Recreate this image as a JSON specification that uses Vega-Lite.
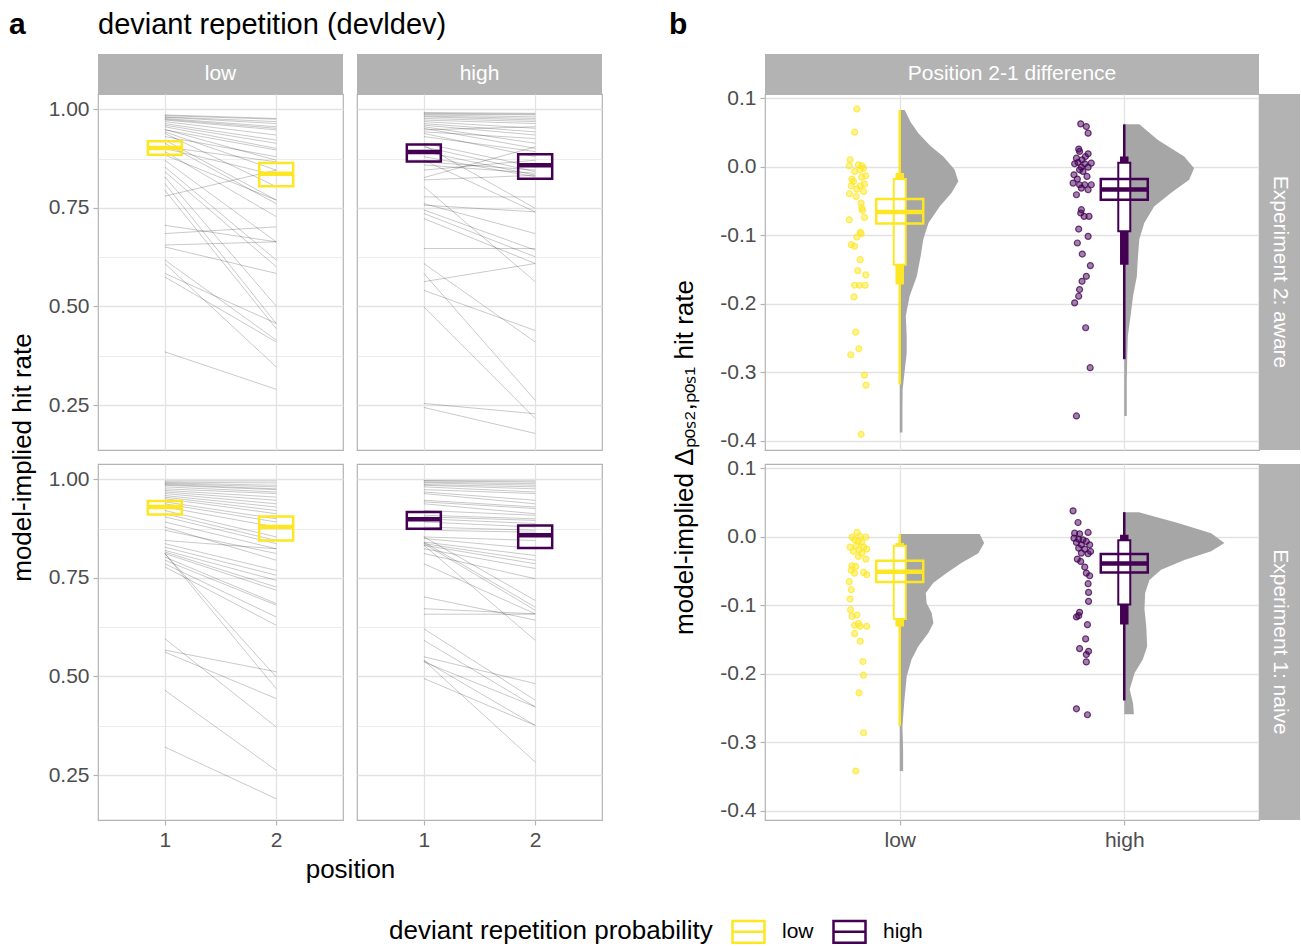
{
"$schema": "https://vega.github.io/schema/vega-lite/v6.json",
"padding": {"left": 8, "top": 10, "right": 2, "bottom": 2},
"config": {
  "font": "Liberation Sans",
  "view": {"stroke": "#b3b3b3", "strokeWidth": 1.2},
  "axis": {"domain": false, "grid": true, "gridColor": "#e2e2e2", "tickColor": "#b3b3b3", "tickSize": 5, "tickWidth": 1.2, "labelColor": "#4d4d4d", "labelFontSize": 21, "labelPadding": 4, "labelOverlap": false, "labelFlush": false, "titleFontSize": 26, "titleFontWeight": "normal", "titleColor": "black", "titlePadding": 8}
},
"bounds": "flush", "align": "each", "spacing": 0, "columns": 6,
"datasets": {
  "lAL": [{"v1":0.986,"v2":0.977},{"v1":0.984,"v2":0.975},{"v1":0.981,"v2":0.969},{"v1":0.98,"v2":0.964},{"v1":0.977,"v2":0.956},{"v1":0.975,"v2":0.952},{"v1":0.973,"v2":0.948},{"v1":0.969,"v2":0.935},{"v1":0.964,"v2":0.922},{"v1":0.96,"v2":0.914},{"v1":0.956,"v2":0.901},{"v1":0.949,"v2":0.871},{"v1":0.948,"v2":0.897},{"v1":0.943,"v2":0.846},{"v1":0.939,"v2":0.804},{"v1":0.931,"v2":0.88},{"v1":0.922,"v2":0.77},{"v1":0.914,"v2":0.761},{"v1":0.905,"v2":0.867},{"v1":0.901,"v2":0.833},{"v1":0.893,"v2":0.728},{"v1":0.884,"v2":0.77},{"v1":0.871,"v2":0.664},{"v1":0.854,"v2":0.618},{"v1":0.842,"v2":0.601},{"v1":0.829,"v2":0.501},{"v1":0.812,"v2":0.457},{"v1":0.795,"v2":0.444},{"v1":0.78,"v2":0.846},{"v1":0.706,"v2":0.664},{"v1":0.685,"v2":0.702},{"v1":0.656,"v2":0.664},{"v1":0.651,"v2":0.584},{"v1":0.618,"v2":0.415},{"v1":0.609,"v2":0.347},{"v1":0.584,"v2":0.457},{"v1":0.575,"v2":0.41},{"v1":0.385,"v2":0.29}],
  "lAH": [{"v1":0.992,"v2":0.99},{"v1":0.99,"v2":0.988},{"v1":0.988,"v2":0.986},{"v1":0.986,"v2":0.981},{"v1":0.983,"v2":0.977},{"v1":0.981,"v2":0.973},{"v1":0.977,"v2":0.969},{"v1":0.973,"v2":0.964},{"v1":0.969,"v2":0.952},{"v1":0.964,"v2":0.943},{"v1":0.96,"v2":0.935},{"v1":0.956,"v2":0.914},{"v1":0.952,"v2":0.901},{"v1":0.948,"v2":0.956},{"v1":0.943,"v2":0.926},{"v1":0.939,"v2":0.88},{"v1":0.931,"v2":0.893},{"v1":0.914,"v2":0.854},{"v1":0.909,"v2":0.749},{"v1":0.905,"v2":0.842},{"v1":0.893,"v2":0.833},{"v1":0.88,"v2":0.829},{"v1":0.871,"v2":0.74},{"v1":0.867,"v2":0.846},{"v1":0.859,"v2":0.838},{"v1":0.846,"v2":0.871},{"v1":0.827,"v2":0.905},{"v1":0.821,"v2":0.833},{"v1":0.804,"v2":0.563},{"v1":0.778,"v2":0.778},{"v1":0.761,"v2":0.685},{"v1":0.757,"v2":0.74},{"v1":0.745,"v2":0.643},{"v1":0.736,"v2":0.626},{"v1":0.723,"v2":0.609},{"v1":0.647,"v2":0.647},{"v1":0.609,"v2":0.41},{"v1":0.584,"v2":0.262},{"v1":0.563,"v2":0.609},{"v1":0.541,"v2":0.439},{"v1":0.499,"v2":0.216},{"v1":0.254,"v2":0.228},{"v1":0.244,"v2":0.178}],
  "lNL": [{"v1":0.996,"v2":0.996},{"v1":0.993,"v2":0.991},{"v1":0.991,"v2":0.985},{"v1":0.989,"v2":0.981},{"v1":0.987,"v2":0.976},{"v1":0.985,"v2":0.974},{"v1":0.981,"v2":0.968},{"v1":0.976,"v2":0.964},{"v1":0.972,"v2":0.955},{"v1":0.968,"v2":0.947},{"v1":0.964,"v2":0.938},{"v1":0.959,"v2":0.93},{"v1":0.955,"v2":0.921},{"v1":0.951,"v2":0.913},{"v1":0.943,"v2":0.9},{"v1":0.938,"v2":0.892},{"v1":0.93,"v2":0.879},{"v1":0.921,"v2":0.854},{"v1":0.913,"v2":0.845},{"v1":0.905,"v2":0.837},{"v1":0.892,"v2":0.824},{"v1":0.879,"v2":0.795},{"v1":0.871,"v2":0.812},{"v1":0.845,"v2":0.824},{"v1":0.837,"v2":0.769},{"v1":0.828,"v2":0.757},{"v1":0.82,"v2":0.744},{"v1":0.816,"v2":0.727},{"v1":0.812,"v2":0.719},{"v1":0.812,"v2":0.499},{"v1":0.812,"v2":0.469},{"v1":0.803,"v2":0.685},{"v1":0.795,"v2":0.681},{"v1":0.786,"v2":0.651},{"v1":0.778,"v2":0.63},{"v1":0.596,"v2":0.372},{"v1":0.567,"v2":0.512},{"v1":0.562,"v2":0.444},{"v1":0.465,"v2":0.262},{"v1":0.321,"v2":0.19}],
  "lNH": [{"v1":0.997,"v2":0.996},{"v1":0.996,"v2":0.993},{"v1":0.993,"v2":0.989},{"v1":0.991,"v2":0.985},{"v1":0.987,"v2":0.981},{"v1":0.985,"v2":0.976},{"v1":0.981,"v2":0.968},{"v1":0.974,"v2":0.964},{"v1":0.968,"v2":0.947},{"v1":0.964,"v2":0.938},{"v1":0.947,"v2":0.93},{"v1":0.943,"v2":0.926},{"v1":0.938,"v2":0.913},{"v1":0.921,"v2":0.909},{"v1":0.909,"v2":0.9},{"v1":0.905,"v2":0.896},{"v1":0.9,"v2":0.888},{"v1":0.892,"v2":0.879},{"v1":0.879,"v2":0.871},{"v1":0.871,"v2":0.866},{"v1":0.854,"v2":0.845},{"v1":0.85,"v2":0.824},{"v1":0.841,"v2":0.807},{"v1":0.837,"v2":0.795},{"v1":0.833,"v2":0.786},{"v1":0.824,"v2":0.774},{"v1":0.812,"v2":0.748},{"v1":0.854,"v2":0.693},{"v1":0.841,"v2":0.676},{"v1":0.837,"v2":0.668},{"v1":0.786,"v2":0.659},{"v1":0.833,"v2":0.592},{"v1":0.702,"v2":0.643},{"v1":0.672,"v2":0.659},{"v1":0.658,"v2":0.658},{"v1":0.621,"v2":0.44},{"v1":0.592,"v2":0.423},{"v1":0.55,"v2":0.482},{"v1":0.541,"v2":0.376},{"v1":0.537,"v2":0.423},{"v1":0.495,"v2":0.376},{"v1":0.541,"v2":0.283}],
  "xa": [
    {"e":"aware","p":"low","pos":1,"lo":0.885,"mid":0.902,"hi":0.919},
    {"e":"aware","p":"low","pos":2,"lo":0.805,"mid":0.837,"hi":0.864},
    {"e":"aware","p":"high","pos":1,"lo":0.868,"mid":0.892,"hi":0.911},
    {"e":"aware","p":"high","pos":2,"lo":0.824,"mid":0.858,"hi":0.886},
    {"e":"naive","p":"low","pos":1,"lo":0.911,"mid":0.93,"hi":0.945},
    {"e":"naive","p":"low","pos":2,"lo":0.845,"mid":0.879,"hi":0.906},
    {"e":"naive","p":"high","pos":1,"lo":0.875,"mid":0.899,"hi":0.917},
    {"e":"naive","p":"high","pos":2,"lo":0.826,"mid":0.858,"hi":0.883}
  ],
  "sb": [
    {"e":"aware","p":"low","g":1,"tlo":-0.318,"thi":0.083,"klo":-0.172,"khi":-0.009,"blo":-0.143,"bhi":-0.018,"clo":-0.083,"cmid":-0.066,"chi":-0.047},
    {"e":"aware","p":"high","g":2,"tlo":-0.281,"thi":0.062,"klo":-0.143,"khi":0.015,"blo":-0.094,"bhi":0.006,"clo":-0.048,"cmid":-0.033,"chi":-0.018},
    {"e":"naive","p":"low","g":1,"tlo":-0.276,"thi":0.004,"klo":-0.131,"khi":-0.009,"blo":-0.12,"bhi":-0.013,"clo":-0.066,"cmid":-0.051,"chi":-0.035},
    {"e":"naive","p":"high","g":2,"tlo":-0.239,"thi":0.036,"klo":-0.128,"khi":0.003,"blo":-0.099,"bhi":-0.005,"clo":-0.052,"cmid":-0.039,"chi":-0.025}
  ],
  "viol": [
    {"e":"aware","p":"low","g":1,"y":0.083,"xr":1.022},{"e":"aware","p":"low","g":1,"y":0.065,"xr":1.049},{"e":"aware","p":"low","g":1,"y":0.049,"xr":1.083},{"e":"aware","p":"low","g":1,"y":0.03,"xr":1.138},{"e":"aware","p":"low","g":1,"y":0.015,"xr":1.194},{"e":"aware","p":"low","g":1,"y":-0.004,"xr":1.244},{"e":"aware","p":"low","g":1,"y":-0.021,"xr":1.261},{"e":"aware","p":"low","g":1,"y":-0.038,"xr":1.231},{"e":"aware","p":"low","g":1,"y":-0.058,"xr":1.178},{"e":"aware","p":"low","g":1,"y":-0.082,"xr":1.128},{"e":"aware","p":"low","g":1,"y":-0.106,"xr":1.105},{"e":"aware","p":"low","g":1,"y":-0.131,"xr":1.093},{"e":"aware","p":"low","g":1,"y":-0.16,"xr":1.076},{"e":"aware","p":"low","g":1,"y":-0.189,"xr":1.044},{"e":"aware","p":"low","g":1,"y":-0.218,"xr":1.027},{"e":"aware","p":"low","g":1,"y":-0.247,"xr":1.031},{"e":"aware","p":"low","g":1,"y":-0.272,"xr":1.031},{"e":"aware","p":"low","g":1,"y":-0.301,"xr":1.021},{"e":"aware","p":"low","g":1,"y":-0.325,"xr":1.013},{"e":"aware","p":"low","g":1,"y":-0.354,"xr":1.012},{"e":"aware","p":"low","g":1,"y":-0.388,"xr":1.012},
    {"e":"aware","p":"high","g":2,"y":0.062,"xr":2.067},{"e":"aware","p":"high","g":2,"y":0.039,"xr":2.15},{"e":"aware","p":"high","g":2,"y":0.015,"xr":2.267},{"e":"aware","p":"high","g":2,"y":-0.002,"xr":2.311},{"e":"aware","p":"high","g":2,"y":-0.019,"xr":2.289},{"e":"aware","p":"high","g":2,"y":-0.038,"xr":2.209},{"e":"aware","p":"high","g":2,"y":-0.058,"xr":2.133},{"e":"aware","p":"high","g":2,"y":-0.082,"xr":2.089},{"e":"aware","p":"high","g":2,"y":-0.106,"xr":2.067},{"e":"aware","p":"high","g":2,"y":-0.131,"xr":2.061},{"e":"aware","p":"high","g":2,"y":-0.16,"xr":2.056},{"e":"aware","p":"high","g":2,"y":-0.189,"xr":2.039},{"e":"aware","p":"high","g":2,"y":-0.218,"xr":2.028},{"e":"aware","p":"high","g":2,"y":-0.247,"xr":2.016},{"e":"aware","p":"high","g":2,"y":-0.281,"xr":2.013},{"e":"aware","p":"high","g":2,"y":-0.315,"xr":2.011},{"e":"aware","p":"high","g":2,"y":-0.364,"xr":2.011},
    {"e":"naive","p":"low","g":1,"y":0.004,"xr":1.356},{"e":"naive","p":"low","g":1,"y":-0.009,"xr":1.376},{"e":"naive","p":"low","g":1,"y":-0.024,"xr":1.35},{"e":"naive","p":"low","g":1,"y":-0.038,"xr":1.276},{"e":"naive","p":"low","g":1,"y":-0.053,"xr":1.209},{"e":"naive","p":"low","g":1,"y":-0.067,"xr":1.15},{"e":"naive","p":"low","g":1,"y":-0.082,"xr":1.116},{"e":"naive","p":"low","g":1,"y":-0.097,"xr":1.12},{"e":"naive","p":"low","g":1,"y":-0.111,"xr":1.142},{"e":"naive","p":"low","g":1,"y":-0.126,"xr":1.15},{"e":"naive","p":"low","g":1,"y":-0.14,"xr":1.128},{"e":"naive","p":"low","g":1,"y":-0.16,"xr":1.083},{"e":"naive","p":"low","g":1,"y":-0.179,"xr":1.053},{"e":"naive","p":"low","g":1,"y":-0.204,"xr":1.031},{"e":"naive","p":"low","g":1,"y":-0.238,"xr":1.021},{"e":"naive","p":"low","g":1,"y":-0.277,"xr":1.012},{"e":"naive","p":"low","g":1,"y":-0.31,"xr":1.015},{"e":"naive","p":"low","g":1,"y":-0.342,"xr":1.015},
    {"e":"naive","p":"high","g":2,"y":0.036,"xr":2.065},{"e":"naive","p":"high","g":2,"y":0.02,"xr":2.239},{"e":"naive","p":"high","g":2,"y":0.005,"xr":2.387},{"e":"naive","p":"high","g":2,"y":-0.009,"xr":2.446},{"e":"naive","p":"high","g":2,"y":-0.021,"xr":2.387},{"e":"naive","p":"high","g":2,"y":-0.034,"xr":2.268},{"e":"naive","p":"high","g":2,"y":-0.048,"xr":2.164},{"e":"naive","p":"high","g":2,"y":-0.063,"xr":2.112},{"e":"naive","p":"high","g":2,"y":-0.082,"xr":2.093},{"e":"naive","p":"high","g":2,"y":-0.106,"xr":2.09},{"e":"naive","p":"high","g":2,"y":-0.131,"xr":2.098},{"e":"naive","p":"high","g":2,"y":-0.16,"xr":2.102},{"e":"naive","p":"high","g":2,"y":-0.179,"xr":2.083},{"e":"naive","p":"high","g":2,"y":-0.199,"xr":2.046},{"e":"naive","p":"high","g":2,"y":-0.223,"xr":2.024},{"e":"naive","p":"high","g":2,"y":-0.243,"xr":2.039},{"e":"naive","p":"high","g":2,"y":-0.259,"xr":2.043}
  ],
  "pts": [
    {"e":"aware","p":"low","x":0.809,"d":0.0845},{"e":"aware","p":"low","x":0.799,"d":0.0505},{"e":"aware","p":"low","x":0.779,"d":0.0102},{"e":"aware","p":"low","x":0.775,"d":0.0015},{"e":"aware","p":"low","x":0.816,"d":0.0029},{"e":"aware","p":"low","x":0.831,"d":0.0015},{"e":"aware","p":"low","x":0.839,"d":-0.0019},{"e":"aware","p":"low","x":0.799,"d":-0.0068},{"e":"aware","p":"low","x":0.824,"d":-0.0044},{"e":"aware","p":"low","x":0.849,"d":-0.0131},{"e":"aware","p":"low","x":0.831,"d":-0.0151},{"e":"aware","p":"low","x":0.787,"d":-0.018},{"e":"aware","p":"low","x":0.794,"d":-0.0214},{"e":"aware","p":"low","x":0.843,"d":-0.0253},{"e":"aware","p":"low","x":0.784,"d":-0.0277},{"e":"aware","p":"low","x":0.824,"d":-0.0277},{"e":"aware","p":"low","x":0.839,"d":-0.036},{"e":"aware","p":"low","x":0.809,"d":-0.0326},{"e":"aware","p":"low","x":0.776,"d":-0.0394},{"e":"aware","p":"low","x":0.806,"d":-0.0433},{"e":"aware","p":"low","x":0.828,"d":-0.053},{"e":"aware","p":"low","x":0.831,"d":-0.0603},{"e":"aware","p":"low","x":0.834,"d":-0.0637},{"e":"aware","p":"low","x":0.843,"d":-0.0739},{"e":"aware","p":"low","x":0.775,"d":-0.0773},{"e":"aware","p":"low","x":0.824,"d":-0.0957},{"e":"aware","p":"low","x":0.828,"d":-0.0977},{"e":"aware","p":"low","x":0.809,"d":-0.1025},{"e":"aware","p":"low","x":0.784,"d":-0.1137},{"e":"aware","p":"low","x":0.799,"d":-0.1161},{"e":"aware","p":"low","x":0.824,"d":-0.1356},{"e":"aware","p":"low","x":0.813,"d":-0.1516},{"e":"aware","p":"low","x":0.849,"d":-0.1579},{"e":"aware","p":"low","x":0.799,"d":-0.173},{"e":"aware","p":"low","x":0.821,"d":-0.173},{"e":"aware","p":"low","x":0.846,"d":-0.173},{"e":"aware","p":"low","x":0.796,"d":-0.19},{"e":"aware","p":"low","x":0.804,"d":-0.2415},{"e":"aware","p":"low","x":0.818,"d":-0.2658},{"e":"aware","p":"low","x":0.782,"d":-0.2745},{"e":"aware","p":"low","x":0.843,"d":-0.3042},{"e":"aware","p":"low","x":0.85,"d":-0.3188},{"e":"aware","p":"low","x":0.828,"d":-0.3907},
    {"e":"aware","p":"high","x":1.806,"d":0.0627},{"e":"aware","p":"high","x":1.831,"d":0.0588},{"e":"aware","p":"high","x":1.839,"d":0.0491},{"e":"aware","p":"high","x":1.797,"d":0.0258},{"e":"aware","p":"high","x":1.801,"d":0.0224},{"e":"aware","p":"high","x":1.839,"d":0.019},{"e":"aware","p":"high","x":1.787,"d":0.0126},{"e":"aware","p":"high","x":1.812,"d":0.0102},{"e":"aware","p":"high","x":1.827,"d":0.015},{"e":"aware","p":"high","x":1.779,"d":0.0044},{"e":"aware","p":"high","x":1.794,"d":0.0063},{"e":"aware","p":"high","x":1.824,"d":0.0044},{"e":"aware","p":"high","x":1.853,"d":0.0053},{"e":"aware","p":"high","x":1.809,"d":-0.0005},{"e":"aware","p":"high","x":1.839,"d":-0.0005},{"e":"aware","p":"high","x":1.801,"d":-0.0044},{"e":"aware","p":"high","x":1.776,"d":-0.0117},{"e":"aware","p":"high","x":1.816,"d":-0.0068},{"e":"aware","p":"high","x":1.791,"d":-0.018},{"e":"aware","p":"high","x":1.834,"d":-0.0141},{"e":"aware","p":"high","x":1.772,"d":-0.0238},{"e":"aware","p":"high","x":1.801,"d":-0.0262},{"e":"aware","p":"high","x":1.824,"d":-0.0262},{"e":"aware","p":"high","x":1.853,"d":-0.0262},{"e":"aware","p":"high","x":1.809,"d":-0.0311},{"e":"aware","p":"high","x":1.839,"d":-0.0335},{"e":"aware","p":"high","x":1.787,"d":-0.0408},{"e":"aware","p":"high","x":1.809,"d":-0.0627},{"e":"aware","p":"high","x":1.806,"d":-0.0675},{"e":"aware","p":"high","x":1.821,"d":-0.0724},{"e":"aware","p":"high","x":1.843,"d":-0.0724},{"e":"aware","p":"high","x":1.797,"d":-0.0909},{"e":"aware","p":"high","x":1.839,"d":-0.1016},{"e":"aware","p":"high","x":1.791,"d":-0.1113},{"e":"aware","p":"high","x":1.813,"d":-0.1274},{"e":"aware","p":"high","x":1.849,"d":-0.1443},{"e":"aware","p":"high","x":1.831,"d":-0.1599},{"e":"aware","p":"high","x":1.812,"d":-0.1672},{"e":"aware","p":"high","x":1.801,"d":-0.1793},{"e":"aware","p":"high","x":1.797,"d":-0.189},{"e":"aware","p":"high","x":1.779,"d":-0.1987},{"e":"aware","p":"high","x":1.828,"d":-0.2351},{"e":"aware","p":"high","x":1.848,"d":-0.2934},{"e":"aware","p":"high","x":1.787,"d":-0.3639},
    {"e":"naive","p":"low","x":0.81,"d":0.0063},{"e":"naive","p":"low","x":0.788,"d":-0.0005},{"e":"naive","p":"low","x":0.824,"d":0.0005},{"e":"naive","p":"low","x":0.849,"d":-0.0005},{"e":"naive","p":"low","x":0.799,"d":-0.0044},{"e":"naive","p":"low","x":0.816,"d":-0.0068},{"e":"naive","p":"low","x":0.831,"d":-0.0083},{"e":"naive","p":"low","x":0.779,"d":-0.0151},{"e":"naive","p":"low","x":0.806,"d":-0.0131},{"e":"naive","p":"low","x":0.839,"d":-0.0151},{"e":"naive","p":"low","x":0.819,"d":-0.019},{"e":"naive","p":"low","x":0.853,"d":-0.018},{"e":"naive","p":"low","x":0.794,"d":-0.0214},{"e":"naive","p":"low","x":0.831,"d":-0.0238},{"e":"naive","p":"low","x":0.816,"d":-0.0287},{"e":"naive","p":"low","x":0.849,"d":-0.0326},{"e":"naive","p":"low","x":0.787,"d":-0.0423},{"e":"naive","p":"low","x":0.804,"d":-0.0433},{"e":"naive","p":"low","x":0.784,"d":-0.0491},{"e":"naive","p":"low","x":0.839,"d":-0.052},{"e":"naive","p":"low","x":0.799,"d":-0.053},{"e":"naive","p":"low","x":0.853,"d":-0.0554},{"e":"naive","p":"low","x":0.775,"d":-0.0656},{"e":"naive","p":"low","x":0.784,"d":-0.0773},{"e":"naive","p":"low","x":0.779,"d":-0.0909},{"e":"naive","p":"low","x":0.781,"d":-0.1064},{"e":"naive","p":"low","x":0.788,"d":-0.1161},{"e":"naive","p":"low","x":0.809,"d":-0.1142},{"e":"naive","p":"low","x":0.799,"d":-0.1293},{"e":"naive","p":"low","x":0.816,"d":-0.1268},{"e":"naive","p":"low","x":0.824,"d":-0.1307},{"e":"naive","p":"low","x":0.853,"d":-0.1307},{"e":"naive","p":"low","x":0.799,"d":-0.1414},{"e":"naive","p":"low","x":0.824,"d":-0.1526},{"e":"naive","p":"low","x":0.836,"d":-0.1822},{"e":"naive","p":"low","x":0.839,"d":-0.2021},{"e":"naive","p":"low","x":0.819,"d":-0.2279},{"e":"naive","p":"low","x":0.839,"d":-0.2862},{"e":"naive","p":"low","x":0.804,"d":-0.3421},
    {"e":"naive","p":"high","x":1.772,"d":0.0379},{"e":"naive","p":"high","x":1.794,"d":0.0209},{"e":"naive","p":"high","x":1.779,"d":0.0053},{"e":"naive","p":"high","x":1.801,"d":0.0044},{"e":"naive","p":"high","x":1.839,"d":0.0063},{"e":"naive","p":"high","x":1.776,"d":-0.0019},{"e":"naive","p":"high","x":1.797,"d":-0.0034},{"e":"naive","p":"high","x":1.816,"d":-0.0044},{"e":"naive","p":"high","x":1.831,"d":-0.0068},{"e":"naive","p":"high","x":1.787,"d":-0.0083},{"e":"naive","p":"high","x":1.809,"d":-0.0117},{"e":"naive","p":"high","x":1.846,"d":-0.0117},{"e":"naive","p":"high","x":1.797,"d":-0.0165},{"e":"naive","p":"high","x":1.824,"d":-0.018},{"e":"naive","p":"high","x":1.839,"d":-0.0248},{"e":"naive","p":"high","x":1.809,"d":-0.0238},{"e":"naive","p":"high","x":1.85,"d":-0.0214},{"e":"naive","p":"high","x":1.791,"d":-0.0326},{"e":"naive","p":"high","x":1.806,"d":-0.036},{"e":"naive","p":"high","x":1.824,"d":-0.0442},{"e":"naive","p":"high","x":1.831,"d":-0.053},{"e":"naive","p":"high","x":1.846,"d":-0.0569},{"e":"naive","p":"high","x":1.839,"d":-0.0685},{"e":"naive","p":"high","x":1.841,"d":-0.0812},{"e":"naive","p":"high","x":1.841,"d":-0.0943},{"e":"naive","p":"high","x":1.801,"d":-0.1103},{"e":"naive","p":"high","x":1.787,"d":-0.1171},{"e":"naive","p":"high","x":1.797,"d":-0.1152},{"e":"naive","p":"high","x":1.836,"d":-0.1283},{"e":"naive","p":"high","x":1.828,"d":-0.1491},{"e":"naive","p":"high","x":1.801,"d":-0.1633},{"e":"naive","p":"high","x":1.841,"d":-0.1672},{"e":"naive","p":"high","x":1.831,"d":-0.172},{"e":"naive","p":"high","x":1.831,"d":-0.1827},{"e":"naive","p":"high","x":1.787,"d":-0.2512},{"e":"naive","p":"high","x":1.836,"d":-0.2599}
  ]
},
"concat": [
  {"width":245,"height":40,"view":{"fill":"#b3b3b3","stroke":null},
   "title":{"text":"deviant repetition (devldev)","anchor":"start","frame":"group","fontSize":29,"fontWeight":"normal","color":"black","offset":14},
   "data":{"values":[{"t":"low"}]},"mark":{"type":"text","color":"white","fontSize":21},"encoding":{"text":{"field":"t"}}},
  {"width":14,"height":40,"view":{"stroke":null},
   "title":{"text":"a","anchor":"start","frame":"group","dx":-334,"fontSize":30,"fontWeight":"bold","color":"black","offset":14},
   "data":{"values":[]},"mark":"point"},
  {"width":245,"height":40,"view":{"fill":"#b3b3b3","stroke":null},
   "data":{"values":[{"t":"high"}]},"mark":{"type":"text","color":"white","fontSize":21},"encoding":{"text":{"field":"t"}}},
  {"width":163,"height":40,"view":{"stroke":null},"data":{"values":[]},"mark":"point"},
  {"width":494,"height":40,"view":{"fill":"#b3b3b3","stroke":null},
   "title":{"text":"b","anchor":"start","frame":"group","dx":-96,"fontSize":30,"fontWeight":"bold","color":"black","offset":14},
   "data":{"values":[{"t":"Position 2-1 difference"}]},"mark":{"type":"text","color":"white","fontSize":21},"encoding":{"text":{"field":"t"}}},
  {"width":41,"height":40,"view":{"stroke":null},"data":{"values":[]},"mark":"point"},

  {"width":245,"height":356,
   "layer":[
    {"data":{"name":"lAL"},"mark":{"type":"rule","color":"black","opacity":0.24,"strokeWidth":0.9},
     "encoding":{
      "x":{"datum":1,"type":"quantitative","scale":{"domain":[0.4,2.6],"nice":false,"zero":false,"padding":0},"axis":{"values":[1,2],"labels":false,"ticks":false,"title":null,"gridWidth":1.3}},
      "x2":{"datum":2},
      "y":{"field":"v1","type":"quantitative","scale":{"domain":[0.136,1.039],"nice":false,"zero":false},"axis":{"values":[0.25,0.375,0.5,0.625,0.75,0.875,1],"format":".2f","labelExpr":"round(datum.value*8)%2==0 ? datum.label : ''","tickOpacity":{"condition":{"test":"round(datum.value*8)%2==0","value":1},"value":0},"gridWidth":{"condition":{"test":"round(datum.value*8)%2==0","value":1.3},"value":0.65},"title":"model-implied hit rate","titleY":363,"titlePadding":13}},
      "y2":{"field":"v2"}}},
    {"data":{"name":"xa"},"transform":[{"filter":"datum.e=='aware' && datum.p=='low'"}],
     "mark":{"type":"bar","filled":false,"width":34,"strokeWidth":2.5},
     "encoding":{
      "x":{"field":"pos","type":"quantitative","scale":{"domain":[0.4,2.6],"nice":false,"zero":false,"padding":0}},
      "y":{"field":"lo","type":"quantitative","scale":{"domain":[0.136,1.039],"nice":false,"zero":false}},
      "y2":{"field":"hi"},
      "stroke":{"field":"p","type":"nominal","scale":{"domain":["low","high"],"range":["#FDE725","#440154"]},
       "legend":{"orient":"none","legendX":291,"legendY":860,"direction":"horizontal","title":"deviant repetition probability","titleOrient":"left","titleLimit":1000,"titleFontSize":26,"titleFontWeight":"normal","titleColor":"black","titlePadding":18,"labelFontSize":21,"labelColor":"black","symbolType":"M-1,-0.68H1V0.68H-1Z M-1,0H1","symbolSize":1024,"symbolStrokeWidth":2.5,"symbolFillColor":"transparent","labelOffset":16,"columnPadding":14}}}},
    {"data":{"name":"xa"},"transform":[{"filter":"datum.e=='aware' && datum.p=='low'"}],
     "mark":{"type":"tick","orient":"horizontal","size":34,"thickness":4.5,"opacity":1},
     "encoding":{
      "x":{"field":"pos","type":"quantitative","scale":{"domain":[0.4,2.6],"nice":false,"zero":false,"padding":0}},
      "y":{"field":"mid","type":"quantitative","scale":{"domain":[0.136,1.039],"nice":false,"zero":false}},
      "color":{"field":"p","type":"nominal","scale":{"domain":["high","low"],"range":["#440154","#FDE725"]},"legend":null}}}
   ]},
  {"width":14,"height":356,"view":{"stroke":null},"data":{"values":[]},"mark":"point"},
  {"width":245,"height":356,
   "layer":[
    {"data":{"name":"lAH"},"mark":{"type":"rule","color":"black","opacity":0.24,"strokeWidth":0.9},
     "encoding":{
      "x":{"datum":1,"type":"quantitative","scale":{"domain":[0.4,2.6],"nice":false,"zero":false,"padding":0},"axis":{"values":[1,2],"labels":false,"ticks":false,"title":null,"gridWidth":1.3}},
      "x2":{"datum":2},
      "y":{"field":"v1","type":"quantitative","scale":{"domain":[0.136,1.039],"nice":false,"zero":false},"axis":{"values":[0.25,0.375,0.5,0.625,0.75,0.875,1],"labels":false,"ticks":false,"gridWidth":{"condition":{"test":"round(datum.value*8)%2==0","value":1.3},"value":0.65},"title":null}},
      "y2":{"field":"v2"}}},
    {"data":{"name":"xa"},"transform":[{"filter":"datum.e=='aware' && datum.p=='high'"}],
     "mark":{"type":"bar","filled":false,"width":34,"strokeWidth":2.5},
     "encoding":{
      "x":{"field":"pos","type":"quantitative","scale":{"domain":[0.4,2.6],"nice":false,"zero":false,"padding":0}},
      "y":{"field":"lo","type":"quantitative","scale":{"domain":[0.136,1.039],"nice":false,"zero":false}},
      "y2":{"field":"hi"},
      "color":{"field":"p","type":"nominal","scale":{"domain":["high","low"],"range":["#440154","#FDE725"]},"legend":null}}},
    {"data":{"name":"xa"},"transform":[{"filter":"datum.e=='aware' && datum.p=='high'"}],
     "mark":{"type":"tick","orient":"horizontal","size":34,"thickness":4.5,"opacity":1},
     "encoding":{
      "x":{"field":"pos","type":"quantitative","scale":{"domain":[0.4,2.6],"nice":false,"zero":false,"padding":0}},
      "y":{"field":"mid","type":"quantitative","scale":{"domain":[0.136,1.039],"nice":false,"zero":false}},
      "color":{"field":"p","type":"nominal","scale":{"domain":["high","low"],"range":["#440154","#FDE725"]},"legend":null}}}
   ]},
  {"width":163,"height":356,"view":{"stroke":null},"data":{"values":[]},"mark":"point"},
  {"width":494,"height":356,
   "layer":[
    {"data":{"name":"viol"},"transform":[{"filter":"datum.e=='aware'"}],
     "mark":{"type":"area","orient":"horizontal","color":"#a6a6a6","opacity":1},
     "encoding":{
      "y":{"field":"y","type":"quantitative","scale":{"domain":[-0.4136,0.1063],"nice":false,"zero":false},"axis":{"values":[-0.4,-0.35,-0.3,-0.25,-0.2,-0.15,-0.1,-0.05,0,0.05,0.1],"labelExpr":"round(datum.value*20)%2==0 ? replace(format(datum.value,'.1f'),'\u2212','-') : ''","tickOpacity":{"condition":{"test":"round(datum.value*20)%2==0","value":1},"value":0},"gridWidth":{"condition":{"test":"round(datum.value*20)%2==0","value":1.3},"value":0.65},"title":"model-implied \u0394\u209a\u2092\u209b\u2082,\u209a\u2092\u209b\u2081 hit rate","titleY":363,"titlePadding":22}},
      "x":{"field":"xr","type":"quantitative","stack":null,"scale":{"domain":[0.4,2.6],"nice":false,"zero":false,"padding":0},"axis":{"values":[1,2],"labels":false,"ticks":false,"title":null,"gridWidth":1.3}},
      "x2":{"field":"g"},
      "detail":{"field":"p"}}},
    {"data":{"name":"pts"},"transform":[{"filter":"datum.e=='aware'"}],
     "mark":{"type":"point","filled":false,"size":36,"strokeWidth":1.2,"opacity":1,"fillOpacity":0.5,"strokeOpacity":0.75},
     "encoding":{
      "x":{"field":"x","type":"quantitative","scale":{"domain":[0.4,2.6],"nice":false,"zero":false,"padding":0}},
      "y":{"field":"d","type":"quantitative","scale":{"domain":[-0.4136,0.1063],"nice":false,"zero":false}},
      "color":{"field":"p","type":"nominal","scale":{"domain":["high","low"],"range":["#440154","#FDE725"]},"legend":null},
      "fill":{"field":"p","type":"nominal","scale":{"domain":["high","low"],"range":["#440154","#FDE725"]},"legend":null}}},
    {"data":{"name":"sb"},"transform":[{"filter":"datum.e=='aware'"}],
     "mark":{"type":"rule","strokeWidth":2.5},
     "encoding":{
      "x":{"field":"g","type":"quantitative","scale":{"domain":[0.4,2.6],"nice":false,"zero":false,"padding":0}},
      "y":{"field":"tlo","type":"quantitative","scale":{"domain":[-0.4136,0.1063],"nice":false,"zero":false}},
      "y2":{"field":"thi"},
      "color":{"field":"p","type":"nominal","scale":{"domain":["high","low"],"range":["#440154","#FDE725"]},"legend":null}}},
    {"data":{"name":"sb"},"transform":[{"filter":"datum.e=='aware'"}],
     "mark":{"type":"rule","strokeWidth":8.5},
     "encoding":{
      "x":{"field":"g","type":"quantitative","scale":{"domain":[0.4,2.6],"nice":false,"zero":false,"padding":0}},
      "y":{"field":"klo","type":"quantitative","scale":{"domain":[-0.4136,0.1063],"nice":false,"zero":false}},
      "y2":{"field":"khi"},
      "color":{"field":"p","type":"nominal","scale":{"domain":["high","low"],"range":["#440154","#FDE725"]},"legend":null}}},
    {"data":{"name":"sb"},"transform":[{"filter":"datum.e=='aware'"}],
     "mark":{"type":"bar","filled":false,"fill":"white","width":12,"strokeWidth":2},
     "encoding":{
      "x":{"field":"g","type":"quantitative","scale":{"domain":[0.4,2.6],"nice":false,"zero":false,"padding":0}},
      "y":{"field":"blo","type":"quantitative","scale":{"domain":[-0.4136,0.1063],"nice":false,"zero":false}},
      "y2":{"field":"bhi"},
      "color":{"field":"p","type":"nominal","scale":{"domain":["high","low"],"range":["#440154","#FDE725"]},"legend":null}}},
    {"data":{"name":"sb"},"transform":[{"filter":"datum.e=='aware'"}],
     "mark":{"type":"bar","filled":false,"width":47,"strokeWidth":2.5},
     "encoding":{
      "x":{"field":"g","type":"quantitative","scale":{"domain":[0.4,2.6],"nice":false,"zero":false,"padding":0}},
      "y":{"field":"clo","type":"quantitative","scale":{"domain":[-0.4136,0.1063],"nice":false,"zero":false}},
      "y2":{"field":"chi"},
      "color":{"field":"p","type":"nominal","scale":{"domain":["high","low"],"range":["#440154","#FDE725"]},"legend":null}}},
    {"data":{"name":"sb"},"transform":[{"filter":"datum.e=='aware'"}],
     "mark":{"type":"tick","orient":"horizontal","size":47,"thickness":4.5,"opacity":1},
     "encoding":{
      "x":{"field":"g","type":"quantitative","scale":{"domain":[0.4,2.6],"nice":false,"zero":false,"padding":0}},
      "y":{"field":"cmid","type":"quantitative","scale":{"domain":[-0.4136,0.1063],"nice":false,"zero":false}},
      "color":{"field":"p","type":"nominal","scale":{"domain":["high","low"],"range":["#440154","#FDE725"]},"legend":null}}}
   ]},
  {"width":41,"height":356,"view":{"fill":"#b3b3b3","stroke":null},
   "data":{"values":[{"t":"Experiment 2: aware"}]},"mark":{"type":"text","color":"white","fontSize":21,"angle":90},"encoding":{"text":{"field":"t"}}},

  {"width":245,"height":14,"view":{"stroke":null},"data":{"values":[]},"mark":"point"},
  {"width":14,"height":14,"view":{"stroke":null},"data":{"values":[]},"mark":"point"},
  {"width":245,"height":14,"view":{"stroke":null},"data":{"values":[]},"mark":"point"},
  {"width":163,"height":14,"view":{"stroke":null},"data":{"values":[]},"mark":"point"},
  {"width":494,"height":14,"view":{"stroke":null},"data":{"values":[]},"mark":"point"},
  {"width":41,"height":14,"view":{"stroke":null},"data":{"values":[]},"mark":"point"},

  {"width":245,"height":356,
   "layer":[
    {"data":{"name":"lNL"},"mark":{"type":"rule","color":"black","opacity":0.24,"strokeWidth":0.9},
     "encoding":{
      "x":{"datum":1,"type":"quantitative","scale":{"domain":[0.4,2.6],"nice":false,"zero":false,"padding":0},"axis":{"values":[1,2],"format":"d","title":"position","titleX":252,"titlePadding":6,"gridWidth":1.3}},
      "x2":{"datum":2},
      "y":{"field":"v1","type":"quantitative","scale":{"domain":[0.136,1.039],"nice":false,"zero":false},"axis":{"values":[0.25,0.375,0.5,0.625,0.75,0.875,1],"format":".2f","labelExpr":"round(datum.value*8)%2==0 ? datum.label : ''","tickOpacity":{"condition":{"test":"round(datum.value*8)%2==0","value":1},"value":0},"gridWidth":{"condition":{"test":"round(datum.value*8)%2==0","value":1.3},"value":0.65},"title":null}},
      "y2":{"field":"v2"}}},
    {"data":{"name":"xa"},"transform":[{"filter":"datum.e=='naive' && datum.p=='low'"}],
     "mark":{"type":"bar","filled":false,"width":34,"strokeWidth":2.5},
     "encoding":{
      "x":{"field":"pos","type":"quantitative","scale":{"domain":[0.4,2.6],"nice":false,"zero":false,"padding":0}},
      "y":{"field":"lo","type":"quantitative","scale":{"domain":[0.136,1.039],"nice":false,"zero":false}},
      "y2":{"field":"hi"},
      "color":{"field":"p","type":"nominal","scale":{"domain":["high","low"],"range":["#440154","#FDE725"]},"legend":null}}},
    {"data":{"name":"xa"},"transform":[{"filter":"datum.e=='naive' && datum.p=='low'"}],
     "mark":{"type":"tick","orient":"horizontal","size":34,"thickness":4.5,"opacity":1},
     "encoding":{
      "x":{"field":"pos","type":"quantitative","scale":{"domain":[0.4,2.6],"nice":false,"zero":false,"padding":0}},
      "y":{"field":"mid","type":"quantitative","scale":{"domain":[0.136,1.039],"nice":false,"zero":false}},
      "color":{"field":"p","type":"nominal","scale":{"domain":["high","low"],"range":["#440154","#FDE725"]},"legend":null}}}
   ]},
  {"width":14,"height":356,"view":{"stroke":null},"data":{"values":[]},"mark":"point"},
  {"width":245,"height":356,
   "layer":[
    {"data":{"name":"lNH"},"mark":{"type":"rule","color":"black","opacity":0.24,"strokeWidth":0.9},
     "encoding":{
      "x":{"datum":1,"type":"quantitative","scale":{"domain":[0.4,2.6],"nice":false,"zero":false,"padding":0},"axis":{"values":[1,2],"format":"d","title":null,"gridWidth":1.3}},
      "x2":{"datum":2},
      "y":{"field":"v1","type":"quantitative","scale":{"domain":[0.136,1.039],"nice":false,"zero":false},"axis":{"values":[0.25,0.375,0.5,0.625,0.75,0.875,1],"labels":false,"ticks":false,"gridWidth":{"condition":{"test":"round(datum.value*8)%2==0","value":1.3},"value":0.65},"title":null}},
      "y2":{"field":"v2"}}},
    {"data":{"name":"xa"},"transform":[{"filter":"datum.e=='naive' && datum.p=='high'"}],
     "mark":{"type":"bar","filled":false,"width":34,"strokeWidth":2.5},
     "encoding":{
      "x":{"field":"pos","type":"quantitative","scale":{"domain":[0.4,2.6],"nice":false,"zero":false,"padding":0}},
      "y":{"field":"lo","type":"quantitative","scale":{"domain":[0.136,1.039],"nice":false,"zero":false}},
      "y2":{"field":"hi"},
      "color":{"field":"p","type":"nominal","scale":{"domain":["high","low"],"range":["#440154","#FDE725"]},"legend":null}}},
    {"data":{"name":"xa"},"transform":[{"filter":"datum.e=='naive' && datum.p=='high'"}],
     "mark":{"type":"tick","orient":"horizontal","size":34,"thickness":4.5,"opacity":1},
     "encoding":{
      "x":{"field":"pos","type":"quantitative","scale":{"domain":[0.4,2.6],"nice":false,"zero":false,"padding":0}},
      "y":{"field":"mid","type":"quantitative","scale":{"domain":[0.136,1.039],"nice":false,"zero":false}},
      "color":{"field":"p","type":"nominal","scale":{"domain":["high","low"],"range":["#440154","#FDE725"]},"legend":null}}}
   ]},
  {"width":163,"height":356,"view":{"stroke":null},"data":{"values":[]},"mark":"point"},
  {"width":494,"height":356,
   "layer":[
    {"data":{"name":"viol"},"transform":[{"filter":"datum.e=='naive'"}],
     "mark":{"type":"area","orient":"horizontal","color":"#a6a6a6","opacity":1},
     "encoding":{
      "y":{"field":"y","type":"quantitative","scale":{"domain":[-0.4136,0.1063],"nice":false,"zero":false},"axis":{"values":[-0.4,-0.35,-0.3,-0.25,-0.2,-0.15,-0.1,-0.05,0,0.05,0.1],"labelExpr":"round(datum.value*20)%2==0 ? replace(format(datum.value,'.1f'),'\u2212','-') : ''","tickOpacity":{"condition":{"test":"round(datum.value*20)%2==0","value":1},"value":0},"gridWidth":{"condition":{"test":"round(datum.value*20)%2==0","value":1.3},"value":0.65},"title":null}},
      "x":{"field":"xr","type":"quantitative","stack":null,"scale":{"domain":[0.4,2.6],"nice":false,"zero":false,"padding":0},"axis":{"values":[1,2],"labelExpr":"datum.value==1 ? 'low' : 'high'","title":null,"gridWidth":1.3}},
      "x2":{"field":"g"},
      "detail":{"field":"p"}}},
    {"data":{"name":"pts"},"transform":[{"filter":"datum.e=='naive'"}],
     "mark":{"type":"point","filled":false,"size":36,"strokeWidth":1.2,"opacity":1,"fillOpacity":0.5,"strokeOpacity":0.75},
     "encoding":{
      "x":{"field":"x","type":"quantitative","scale":{"domain":[0.4,2.6],"nice":false,"zero":false,"padding":0}},
      "y":{"field":"d","type":"quantitative","scale":{"domain":[-0.4136,0.1063],"nice":false,"zero":false}},
      "color":{"field":"p","type":"nominal","scale":{"domain":["high","low"],"range":["#440154","#FDE725"]},"legend":null},
      "fill":{"field":"p","type":"nominal","scale":{"domain":["high","low"],"range":["#440154","#FDE725"]},"legend":null}}},
    {"data":{"name":"sb"},"transform":[{"filter":"datum.e=='naive'"}],
     "mark":{"type":"rule","strokeWidth":2.5},
     "encoding":{
      "x":{"field":"g","type":"quantitative","scale":{"domain":[0.4,2.6],"nice":false,"zero":false,"padding":0}},
      "y":{"field":"tlo","type":"quantitative","scale":{"domain":[-0.4136,0.1063],"nice":false,"zero":false}},
      "y2":{"field":"thi"},
      "color":{"field":"p","type":"nominal","scale":{"domain":["high","low"],"range":["#440154","#FDE725"]},"legend":null}}},
    {"data":{"name":"sb"},"transform":[{"filter":"datum.e=='naive'"}],
     "mark":{"type":"rule","strokeWidth":8.5},
     "encoding":{
      "x":{"field":"g","type":"quantitative","scale":{"domain":[0.4,2.6],"nice":false,"zero":false,"padding":0}},
      "y":{"field":"klo","type":"quantitative","scale":{"domain":[-0.4136,0.1063],"nice":false,"zero":false}},
      "y2":{"field":"khi"},
      "color":{"field":"p","type":"nominal","scale":{"domain":["high","low"],"range":["#440154","#FDE725"]},"legend":null}}},
    {"data":{"name":"sb"},"transform":[{"filter":"datum.e=='naive'"}],
     "mark":{"type":"bar","filled":false,"fill":"white","width":12,"strokeWidth":2},
     "encoding":{
      "x":{"field":"g","type":"quantitative","scale":{"domain":[0.4,2.6],"nice":false,"zero":false,"padding":0}},
      "y":{"field":"blo","type":"quantitative","scale":{"domain":[-0.4136,0.1063],"nice":false,"zero":false}},
      "y2":{"field":"bhi"},
      "color":{"field":"p","type":"nominal","scale":{"domain":["high","low"],"range":["#440154","#FDE725"]},"legend":null}}},
    {"data":{"name":"sb"},"transform":[{"filter":"datum.e=='naive'"}],
     "mark":{"type":"bar","filled":false,"width":47,"strokeWidth":2.5},
     "encoding":{
      "x":{"field":"g","type":"quantitative","scale":{"domain":[0.4,2.6],"nice":false,"zero":false,"padding":0}},
      "y":{"field":"clo","type":"quantitative","scale":{"domain":[-0.4136,0.1063],"nice":false,"zero":false}},
      "y2":{"field":"chi"},
      "color":{"field":"p","type":"nominal","scale":{"domain":["high","low"],"range":["#440154","#FDE725"]},"legend":null}}},
    {"data":{"name":"sb"},"transform":[{"filter":"datum.e=='naive'"}],
     "mark":{"type":"tick","orient":"horizontal","size":47,"thickness":4.5,"opacity":1},
     "encoding":{
      "x":{"field":"g","type":"quantitative","scale":{"domain":[0.4,2.6],"nice":false,"zero":false,"padding":0}},
      "y":{"field":"cmid","type":"quantitative","scale":{"domain":[-0.4136,0.1063],"nice":false,"zero":false}},
      "color":{"field":"p","type":"nominal","scale":{"domain":["high","low"],"range":["#440154","#FDE725"]},"legend":null}}}
   ]},
  {"width":41,"height":356,"view":{"fill":"#b3b3b3","stroke":null},
   "data":{"values":[{"t":"Experiment 1: naive"}]},"mark":{"type":"text","color":"white","fontSize":21,"angle":90},"encoding":{"text":{"field":"t"}}}
]
}
